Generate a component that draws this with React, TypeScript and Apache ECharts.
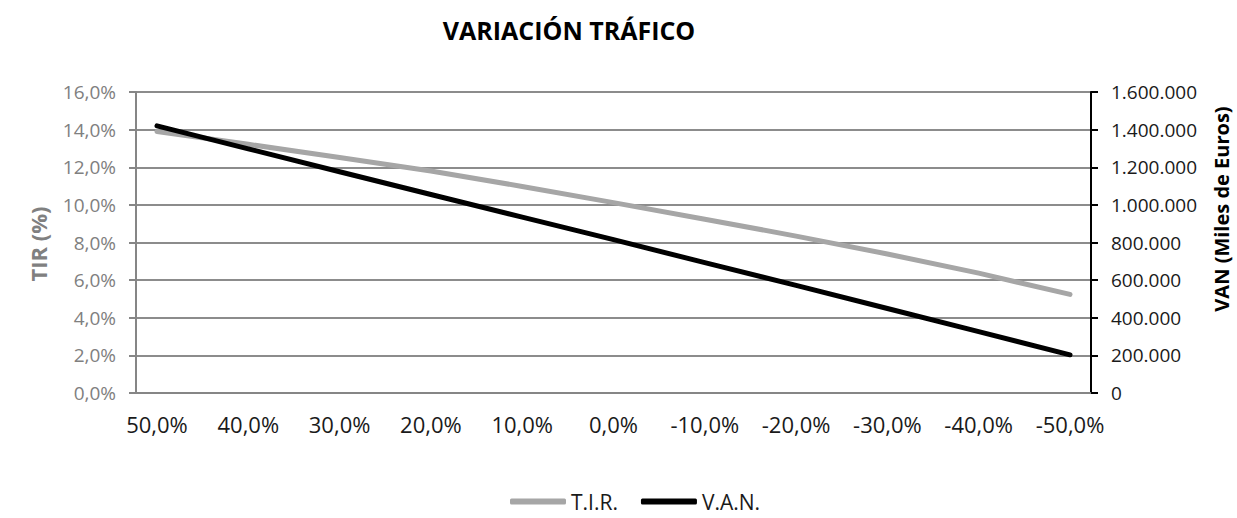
import React, { useEffect, useRef } from "react";
import * as echarts from "echarts";

const variations = [50, 40, 30, 20, 10, 0, -10, -20, -30, -40, -50];
const tirValues = [13.9, 13.22, 12.52, 11.8, 10.98, 10.12, 9.24, 8.34, 7.39, 6.37, 5.24];
const vanValues = [1420000, 1298000, 1176000, 1055000, 935000, 815000, 693000, 572000, 449000, 326000, 203000];
const seriesNames = ["T.I.R.", "V.A.N."];
const titleText = "VARIACIÓN TRÁFICO";
const leftAxisTitle = "TIR (%)";
const rightAxisTitle = "VAN (Miles de Euros)";

const FONT = "'Open Sans', 'Noto Sans', sans-serif";

const pct = (v: number) => v.toFixed(1).replace(".", ",") + "%";
const thousands = (v: number) =>
  Math.round(v)
    .toString()
    .replace(/\B(?=(\d{3})+(?!\d))/g, ".");

export default function App() {
  const ref = useRef<HTMLDivElement>(null);
  useEffect(() => {
    if (!ref.current) return;
    const chart = echarts.init(ref.current, null, { renderer: "svg" });
    chart.setOption({
      animation: false,
      backgroundColor: "#ffffff",
      textStyle: { fontFamily: FONT },
      graphic: [
        {
          type: "text",
          x: 569,
          y: 30,
          style: {
            text: titleText,
            fontSize: 25,
            fontWeight: "bold",
            fontFamily: FONT,
            fill: "#000000",
            align: "center",
            verticalAlign: "middle",
          },
        },
        {
          type: "text",
          x: 38,
          y: 244,
          rotation: Math.PI / 2,
          style: {
            text: leftAxisTitle,
            fontSize: 22,
            fontWeight: "bold",
            fontFamily: FONT,
            fill: "#808080",
            align: "center",
            verticalAlign: "middle",
          },
        },
        {
          type: "text",
          x: 1221,
          y: 209,
          rotation: Math.PI / 2,
          style: {
            text: rightAxisTitle,
            fontSize: 20,
            fontWeight: "bold",
            fontFamily: FONT,
            fill: "#000000",
            align: "center",
            verticalAlign: "middle",
          },
        },
      ],
      grid: { left: 136, right: 146, top: 92, bottom: 125, containLabel: false },
      legend: {
        data: seriesNames,
        left: 505,
        top: 486,
        icon: "roundRect",
        itemWidth: 56,
        itemHeight: 6,
        itemGap: 23,
        textStyle: { fontSize: 21, color: "#1a1a1a", fontFamily: FONT },
      },
      xAxis: {
        type: "value",
        inverse: true,
        min: -52.3,
        max: 52.3,
        axisLine: { show: true, onZero: false, lineStyle: { color: "#868686", width: 2 } },
        axisTick: { show: false },
        splitLine: { show: false },
        axisLabel: {
          customValues: variations,
          formatter: (v: number) => pct(v),
          fontSize: 22,
          color: "#1a1a1a",
          margin: 20,
          fontFamily: FONT,
        },
      },
      yAxis: [
        {
          type: "value",
          min: 0,
          max: 16,
          interval: 2,
          position: "left",
          axisLine: { show: true, onZero: false, lineStyle: { color: "#868686", width: 2 } },
          axisTick: { show: true, length: 7, lineStyle: { color: "#868686", width: 2 } },
          splitLine: { show: true, lineStyle: { color: "#8c8c8c", width: 2 } },
          axisLabel: {
            formatter: (v: number) => pct(v),
            fontSize: 19,
            color: "#808080",
            margin: 20,
            fontFamily: FONT,
          },
        },
        {
          type: "value",
          min: 0,
          max: 1600000,
          interval: 200000,
          position: "right",
          axisLine: { show: true, onZero: false, lineStyle: { color: "#000000", width: 2 } },
          axisTick: { show: true, length: 7, lineStyle: { color: "#000000", width: 2 } },
          splitLine: { show: false },
          axisLabel: {
            formatter: (v: number) => thousands(v),
            fontSize: 19,
            color: "#1a1a1a",
            margin: 20,
            fontFamily: FONT,
          },
        },
      ],
      series: [
        {
          name: seriesNames[0],
          type: "line",
          yAxisIndex: 0,
          showSymbol: false,
          symbol: "none",
          color: "#a6a6a6",
          lineStyle: { color: "#a6a6a6", width: 5, cap: "round", join: "round" },
          data: variations.map((x, i) => [x, tirValues[i]]),
        },
        {
          name: seriesNames[1],
          type: "line",
          yAxisIndex: 1,
          showSymbol: false,
          symbol: "none",
          color: "#000000",
          lineStyle: { color: "#000000", width: 5, cap: "round", join: "round" },
          data: variations.map((x, i) => [x, vanValues[i]]),
        },
      ],
    });
    return () => chart.dispose();
  }, []);
  return (
    <div
      ref={ref}
      style={{ position: "absolute", left: 0, top: 0, width: 1237, height: 518 }}
    />
  );
}
